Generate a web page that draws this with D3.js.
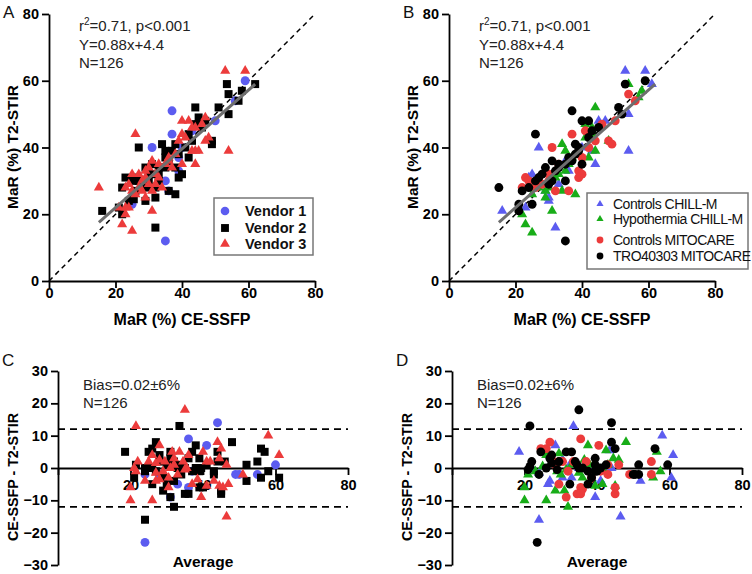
<!DOCTYPE html>
<html>
<head>
<meta charset="utf-8">
<script src="https://cdn.jsdelivr.net/npm/d3@7"></script>
<style>
body { margin: 0; background: #fff; }
svg { display: block; font-family: "Liberation Sans", Arial, sans-serif; }
</style>
</head>
<body>
<div id="chart"></div>
<script>
// ---- data ----
// A: MaR CE-SSFP (x) vs MaR T2-STIR (y), by vendor
var aVendor1 = [[59,60],[37,51],[37,44],[31,40],[35,12],[35,30],[39,37],[36,27],[25,23],[39,33],[50,48],[40,40],[43,45],[56,54]];
var aVendor2 = [[53.5,59],[62,59],[54,56],[58,57],[57,54],[54,50],[44,52],[51,52],[47,48],[45,47],[49,42],[49,41],[34,41],[27,40],[38,41],[35,39],[42,37],[39,38],[38,34],[40,32],[39,31],[35,37],[31,35],[29,34],[23,31],[25,30],[22,28],[28,28],[32,28],[36,27],[32,25],[29,24],[38,26],[24,24],[25.5,24.5],[16,21],[22,20],[32,16],[43,42],[33,30],[31,32],[27,30],[30,30],[21,22],[45,49],[42,44],[41,40],[35,34],[30,28],[33,32],[26,27],[37,39],[46,46],[44,47],[36,36],[33,34],[30,32],[26,31]];
var aVendor3 = [[53,63],[59,63],[26,44],[15,28],[54,39],[40,48],[42,48],[46,47],[44,46],[41,43],[47,42],[48,43],[44,39],[43,39],[44,35],[40,35],[36,36],[31,36],[29,33],[33,35],[25,32],[24,29],[29,31],[28,27],[31,27],[34,28],[32,29],[25,27],[23,28],[21,22],[23,20],[31,21],[22,17],[25,15],[29,25],[37,34],[23,22],[43,46],[30,34],[32,32],[28,30],[27,32],[36,37],[39,42],[45,39],[47,49],[26,26],[30,29],[35,35],[27,28],[33,31],[38,38],[24,22],[40,44]];

// B: same axes, by study group
var bControlsChill = [[53,63],[59,63],[61,59],[54,50],[54,39],[27,40],[44,35],[25,32],[29,27],[30,24],[32,16],[16,21],[23,22],[33,29],[35,36],[45,48],[47,48],[43,39],[30,25],[24,31],[36,33],[40,40],[42,44]];
var bHypoChill = [[44,52],[34,41],[35,39],[38,26],[31,21],[23,17],[25,14.5],[22,20],[29,25],[43,46],[44,39],[48,42],[58,57],[54,59],[41,43],[42,37],[32,31],[27,28],[34,27],[29,27],[25,26],[33,32],[37,37],[43,44],[26,29],[35,33],[41,47],[57,55],[30,28],[36,35]];
var bControlsMito = [[54,56],[56,54],[50,48],[46,47],[37,44],[31,40],[48,42],[49,41],[44,42],[40,37],[39,33],[40,32],[39,31],[30,32],[23,31],[24,30],[22,28],[32,27],[36,27],[28,29],[42,40],[27,30],[33,35],[41,45],[26,28],[30,30]];
var bTroMito = [[59,60],[53,59],[51,52],[52,50],[37,51],[40,48],[42,48],[26,44],[38,41],[42,43],[39,39],[40,35],[31,36],[29,34],[33,35],[35,35],[35,30],[30,29],[26,30],[25,23],[21,23],[21,21],[15,28],[35,12],[39,40],[22,27],[27,31],[33,34],[36,37],[38,38],[24,28],[32,33],[28,32],[37,36],[45,46],[43,45],[31,30]];

// C: Bland-Altman (average, difference), by vendor
var cVendor1 = [[44,14],[36,9],[41,7],[60,1],[50,-2],[49,-2],[55,-2],[37,-1],[24,-2],[33,-5],[36,-6],[31,-9],[24,-23],[28,-2]];
var cVendor2 = [[18.5,5],[21.5,1],[21,-3],[24,0],[24,-1],[25,5],[27,8],[26,6],[28,2],[31,5],[31,3],[33.5,13],[32,2],[33,0],[36,3],[38,7],[39,3],[38,0],[39.5,0],[39,-1],[39,-6],[40,-6],[44,5],[46,2],[48,8],[52,1],[52,-4],[55,2],[56,6],[57,5],[58,-1],[56,-3],[61,-3],[29,-3],[26,-5],[29,-7],[32,-4],[31,-9],[35,-8],[36,-8],[32,-12],[24,-16],[45,-8],[45,-7],[43,-1],[43,-2],[30,1],[27,-1],[33,1],[35,0],[37,-1],[28,4],[26,0],[34,-2],[41,1],[30,-5],[44,2],[37,5]];
var cVendor3 = [[35,18],[21.5,13],[58,10],[61,4],[44,8],[45,6],[44.5,3],[28,7],[26,4],[28,2.5],[31.5,5],[33.5,5],[32,3],[29.5,2],[27,1.5],[34.5,2],[35.5,0],[21,0],[22,2],[21.5,-1],[20,-6],[20,-10],[26,-10],[27,-1.5],[28,-3.5],[27,-4],[30.5,-3],[31,0],[30.5,-6],[38.5,-3.5],[41,-5.5],[41,2],[42,2],[39.5,-9],[46.5,1],[45.5,-6],[44.5,-5.5],[46.5,-15],[51,-2],[37,-5],[35,-0.5],[29,-1],[33,-2],[36,4],[24,-4],[32,1],[40,5],[43,-4],[47,-5],[25,2]];

// D: Bland-Altman, by study group
var dControlsChill = [[33.5,13],[58,10],[61,4],[18.5,5],[28.5,7],[43.5,5.5],[30.5,2.5],[32.5,1],[24,-1.5],[22,0],[27,-4],[26.5,-5],[30.5,-3],[41,-4],[39.5,-9],[52,-4],[60.5,-3],[46.5,-15],[24,-16],[35,0],[38,-1],[44,0],[33,-3]];
var dHypoChill = [[48,8],[37.5,7],[42.5,5.5],[26,4],[29.5,4.5],[36.5,2.5],[44.5,3],[46,2.5],[27.5,1.5],[31.5,-0.5],[21,-2],[20,-6],[20,-10],[26,-10],[31,-7],[32,-12],[28.5,-7],[39.5,-5.5],[41.5,-5],[45,-5.5],[55.5,-3],[57.5,-1],[56.5,5],[40,-1],[33,1],[29,-1],[25,0.5],[36,-3],[38,1],[42,-1],[23,-1],[30,-2],[35,-1.5],[43,1]];
var dControlsMito = [[35.5,9],[40.5,7],[27,8],[26,6],[24.5,6],[28,2],[29.5,2],[30.5,2],[33.5,2],[43,1],[46,1],[49,-2],[55,2],[55,-2],[43,-2],[38.5,-3],[29.5,-5],[31.5,-9],[35.5,-6],[36,-6.5],[34.5,-8],[35.5,-8],[45,-6],[45,-8],[37,2],[32,-1],[28.5,1],[41,-1]];
var dTroMito = [[35,18],[21.5,13],[44,14],[24.5,5],[27,3],[27.5,4],[27.5,1.5],[26,0],[22,2],[21.5,0.5],[21,-0.5],[24,-2],[31.5,5],[33,5],[29.5,2],[29,-0.5],[32.5,-5],[34,2],[34.5,1],[35,0],[36,0],[37.5,-1],[39.5,3],[39.5,1],[39.5,-1],[38.5,-3],[37.5,-5],[42.5,1],[44,8],[45,6],[51.5,1],[50,-2],[50.5,-2],[51.5,-2],[56,6],[59.5,1],[41,0],[40,-1],[23.5,-23]];

var scatterTicks = [0, 20, 40, 60, 80];
var diffTicks = [-30, -20, -10, 0, 10, 20, 30];
var avgTicks = [0, 20, 40, 60, 80];
var fitSlope = 0.88, fitIntercept = 4.4, fitRange = [15, 62];
var limits = [12, -12];
var statLines = ['=0.71, p<0.001', 'Y=0.88x+4.4', 'N=126'];
var biasLines = ['Bias=0.02\u00b16%', 'N=126'];
var vendorNames = ['Vendor 1', 'Vendor 2', 'Vendor 3'];
var groupNames = ['Controls CHILL-M', 'Hypothermia CHILL-M', 'Controls MITOCARE', 'TRO40303 MITOCARE'];

var blue = '#5c5cf0', red = '#ec3b3b', green = '#18ad18', black = '#000';

var width = 752, height = 574;
var svg = d3.select('#chart').append('svg')
    .attr('width', width)
    .attr('height', height);
svg.append('rect').attr('width', width).attr('height', height).attr('fill', '#fff');

function sym(type, size) {
  return d3.symbol().type(type).size(size)();
}
var shapes = {
  circle: function(s) { return sym(d3.symbolCircle, s || 62); },
  square: function(s) { return sym(d3.symbolSquare, s || 64); },
  triangle: function(s) { return sym(d3.symbolTriangle, s || 44); }
};

function styleAxis(g) {
  g.selectAll('path, line').attr('stroke', '#000').attr('stroke-width', 1.8);
  g.selectAll('text')
    .attr('font-family', '"Liberation Sans", Arial, sans-serif')
    .attr('font-size', 14.5)
    .attr('font-weight', 'bold')
    .attr('fill', '#000');
}

function plotPoints(g, data, x, y, shape, color) {
  g.selectAll(null)
    .data(data)
    .enter()
    .append('path')
    .attr('d', shapes[shape]())
    .attr('fill', color)
    .attr('transform', function(d) { return 'translate(' + x(d[0]) + ',' + y(d[1]) + ')'; });
}

function scatterPanel(ox, letter, series, legend) {
  var x = d3.scaleLinear().domain([0, 80]).range([ox, ox + 266]);
  var y = d3.scaleLinear().domain([0, 80]).range([281, 14]);
  var g = svg.append('g');

  g.append('g').attr('transform', 'translate(0,281)')
    .call(d3.axisBottom(x).tickValues(scatterTicks).tickSize(7).tickPadding(0).tickSizeOuter(0))
    .call(styleAxis);
  g.append('g').attr('transform', 'translate(' + ox + ',0)')
    .call(d3.axisLeft(y).tickValues(scatterTicks).tickSize(7).tickPadding(3).tickSizeOuter(0))
    .call(styleAxis);

  g.append('line')
    .attr('x1', x(0)).attr('y1', y(0)).attr('x2', x(80)).attr('y2', y(80))
    .attr('stroke', '#000').attr('stroke-width', 1.5).attr('stroke-dasharray', '5,4');

  series.forEach(function(s) { plotPoints(g, s.data, x, y, s.shape, s.color); });

  g.append('line')
    .attr('x1', x(fitRange[0])).attr('y1', y(fitSlope * fitRange[0] + fitIntercept))
    .attr('x2', x(fitRange[1])).attr('y2', y(fitSlope * fitRange[1] + fitIntercept))
    .attr('stroke', '#6e6e6e').attr('stroke-width', 3);

  var t = g.append('text').attr('x', ox + 30).attr('y', 31).attr('font-size', 15).attr('fill', '#222');
  t.append('tspan').text('r');
  t.append('tspan').attr('font-size', 10).attr('dy', -6).text('2');
  t.append('tspan').attr('dy', 6).text(statLines[0]);
  g.append('text').attr('x', ox + 30).attr('y', 49.5).attr('font-size', 15).attr('fill', '#222').text(statLines[1]);
  g.append('text').attr('x', ox + 30).attr('y', 68).attr('font-size', 15).attr('fill', '#222').text(statLines[2]);

  g.append('text').attr('x', ox - 46).attr('y', 18).attr('font-size', 17).attr('fill', '#111').text(letter);

  g.append('text')
    .attr('x', ox + 133).attr('y', 325)
    .attr('text-anchor', 'middle').attr('font-size', 16).attr('font-weight', 'bold')
    .text('MaR (%) CE-SSFP');
  g.append('text')
    .attr('transform', 'translate(' + (ox - 31) + ',147) rotate(-90)')
    .attr('text-anchor', 'middle').attr('font-size', 15.5).attr('font-weight', 'bold')
    .text('MaR (%) T2-STIR');

  var lg = g.append('g');
  lg.append('rect')
    .attr('x', legend.x).attr('y', legend.y).attr('width', legend.w).attr('height', legend.h)
    .attr('fill', '#fff').attr('stroke', '#777').attr('stroke-width', 1.5);
  series.forEach(function(s, i) {
    var cy = legend.rows[i];
    lg.append('path')
      .attr('d', shapes[s.shape](legend.symSize[s.shape]))
      .attr('fill', s.color)
      .attr('transform', 'translate(' + legend.mx + ',' + cy + ')');
    lg.append('text')
      .attr('x', legend.tx).attr('y', cy + 5)
      .attr('font-size', legend.fontSize)
      .attr('font-weight', legend.weight)
      .attr('letter-spacing', legend.spacing)
      .attr('fill', '#111')
      .text(s.name);
  });
}

function blandAltmanPanel(ox, letter, series) {
  var x = d3.scaleLinear().domain([0, 80]).range([ox, ox + 290]);
  var y = d3.scaleLinear().domain([-30, 30]).range([565, 371]);
  var g = svg.append('g');

  g.append('g').attr('transform', 'translate(' + ox + ',0)')
    .call(d3.axisLeft(y).tickValues(diffTicks).tickSize(7).tickPadding(3).tickSizeOuter(0))
    .call(styleAxis);
  g.append('g').attr('transform', 'translate(0,' + y(0) + ')')
    .call(d3.axisBottom(x).tickValues(avgTicks).tickSize(7).tickPadding(5).tickSizeOuter(0)
      .tickFormat(function(d) { return d === 0 ? '' : d; }))
    .call(styleAxis);

  limits.forEach(function(v) {
    g.append('line')
      .attr('x1', x(0)).attr('x2', x(80)).attr('y1', y(v)).attr('y2', y(v))
      .attr('stroke', '#000').attr('stroke-width', 1.8).attr('stroke-dasharray', '7,5');
  });

  series.forEach(function(s) { plotPoints(g, s.data, x, y, s.shape, s.color); });

  g.append('text').attr('x', ox + 25).attr('y', 390).attr('font-size', 15).attr('fill', '#222').text(biasLines[0]);
  g.append('text').attr('x', ox + 25).attr('y', 408).attr('font-size', 15).attr('fill', '#222').text(biasLines[1]);

  g.append('text').attr('x', ox - 56).attr('y', 366).attr('font-size', 17).attr('fill', '#111').text(letter);

  g.append('text')
    .attr('x', ox + 145).attr('y', 567)
    .attr('text-anchor', 'middle').attr('font-size', 15.5).attr('font-weight', 'bold')
    .text('Average');
  g.append('text')
    .attr('transform', 'translate(' + (ox - 40) + ',477) rotate(-90)')
    .attr('text-anchor', 'middle').attr('font-size', 15).attr('font-weight', 'bold')
    .attr('textLength', 128).attr('lengthAdjust', 'spacingAndGlyphs')
    .text('CE-SSFP - T2-STIR');
}

var vendorSeries = function(d1, d2, d3_) {
  return [
    { name: vendorNames[0], data: d1, shape: 'circle', color: blue },
    { name: vendorNames[1], data: d2, shape: 'square', color: black },
    { name: vendorNames[2], data: d3_, shape: 'triangle', color: red }
  ];
};
var groupSeries = function(g1, g2, g3, g4) {
  return [
    { name: groupNames[0], data: g1, shape: 'triangle', color: blue },
    { name: groupNames[1], data: g2, shape: 'triangle', color: green },
    { name: groupNames[2], data: g3, shape: 'circle', color: red },
    { name: groupNames[3], data: g4, shape: 'circle', color: black }
  ];
};

scatterPanel(49, 'A', vendorSeries(aVendor1, aVendor2, aVendor3), {
  x: 214, y: 198, w: 99, h: 57, mx: 225, tx: 245, rows: [211, 228, 244],
  fontSize: 14.5, weight: 'bold', spacing: 0,
  symSize: { circle: 58, square: 62, triangle: 42 }
});
scatterPanel(449, 'B', groupSeries(bControlsChill, bHypoChill, bControlsMito, bTroMito), {
  x: 587, y: 193, w: 161, h: 76, mx: 600, tx: 613, rows: [204, 219, 240, 256],
  fontSize: 14, weight: 'normal', spacing: -0.5,
  symSize: { circle: 36, square: 40, triangle: 22 }
});
blandAltmanPanel(58, 'C', vendorSeries(cVendor1, cVendor2, cVendor3));
blandAltmanPanel(452, 'D', groupSeries(dControlsChill, dHypoChill, dControlsMito, dTroMito));
</script>
</body>
</html>
